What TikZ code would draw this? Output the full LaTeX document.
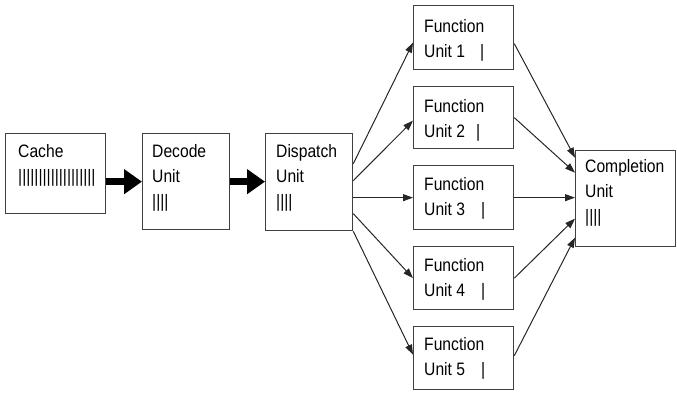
\documentclass[tikz,border=0pt]{standalone}
\usepackage{fontspec}
\setmainfont{Liberation Sans}[FakeStretch=0.87]
\usetikzlibrary{arrows.meta,calc}
\begin{document}
\begin{tikzpicture}[x=1pt,y=-1pt,
  box/.style={draw=black!75, line width=1.3pt, fill=white, anchor=north west, inner sep=0pt},
  txt/.style={anchor=base west, align=left, inner sep=0pt, text=black, font=\fontsize{18}{25}\selectfont},
  thinarrow/.style={-{Triangle[length=10pt,width=7pt]}, line width=1pt, draw=black!85},
  thickarrow/.style={-{Triangle[length=18pt,width=24pt]}, line width=7pt, draw=black}]
\useasboundingbox (0,0) rectangle (677,392);
% boxes
\node[box,minimum width=100pt,minimum height=80pt] (cache) at (5,133) {};
\node[box,minimum width=87pt,minimum height=96pt] (dec) at (142,133) {};
\node[box,minimum width=87pt,minimum height=97pt] (disp) at (265,133) {};
\node[box,minimum width=100pt,minimum height=64pt] (f1) at (413,5) {};
\node[box,minimum width=100pt,minimum height=62pt] (f2) at (413,86) {};
\node[box,minimum width=100pt,minimum height=64pt] (f3) at (413,165) {};
\node[box,minimum width=100pt,minimum height=63pt] (f4) at (413,246) {};
\node[box,minimum width=100pt,minimum height=63pt] (f5) at (413,326) {};
\node[box,minimum width=100pt,minimum height=96pt] (comp) at (575,150) {};
% texts (anchor at baseline of last line)
\node[txt] (cacheT) at (18,182) {Cache\\|||||||||||||||||||};
\node[txt] (decT) at (152,207) {Decode\\Unit\\||||};
\node[txt] (dispT) at (276,207) {Dispatch\\Unit\\||||};
\node[txt] (f1T) at (424,57) {Function\\\makebox[56pt][l]{Unit 1}|};
\node[txt] (f2T) at (424,137) {Function\\\makebox[52pt][l]{Unit 2}|};
\node[txt] (f3T) at (424,215) {Function\\\makebox[57pt][l]{Unit 3}|};
\node[txt] (f4T) at (424,296) {Function\\\makebox[57pt][l]{Unit 4}|};
\node[txt] (f5T) at (424,375) {Function\\\makebox[57pt][l]{Unit 5}|};
\node[txt] (compT) at (585,222) {Completion\\Unit\\||||};
% thick arrows
\draw[thickarrow] (cache.east |- dec.west) -- (dec.west);
\draw[thickarrow] (dec.east) -- (disp.west |- dec.east);
% dispatch to function units
\draw[thinarrow] ($(disp.east)+(0,-18.5)$) -- ($(f1.west)+(0,5)$);
\draw[thinarrow] ($(disp.east)+(0,-1.5)$) -- ($(f2.west)+(0,3)$);
\draw[thinarrow] ($(disp.east)+(0,15.5)$) -- (f3.west);
\draw[thinarrow] ($(disp.east)+(0,31.5)$) -- (f4.west);
\draw[thinarrow] (disp.south east) -- ($(f5.west)+(0,-3.5)$);
% function units to completion
\draw[thinarrow] ($(f1.east)+(0,6)$) -- ($(comp.west)+(0,-41)$);
\draw[thinarrow] (f2.east) -- ($(comp.west)+(0,-26)$);
\draw[thinarrow] (f3.east) -- ($(comp.west)+(0,-1)$);
\draw[thinarrow] (f4.east) -- ($(comp.west)+(0,20)$);
\draw[thinarrow] ($(f5.east)+(0,-2.5)$) -- ($(comp.west)+(0,39)$);
\end{tikzpicture}
\end{document}
